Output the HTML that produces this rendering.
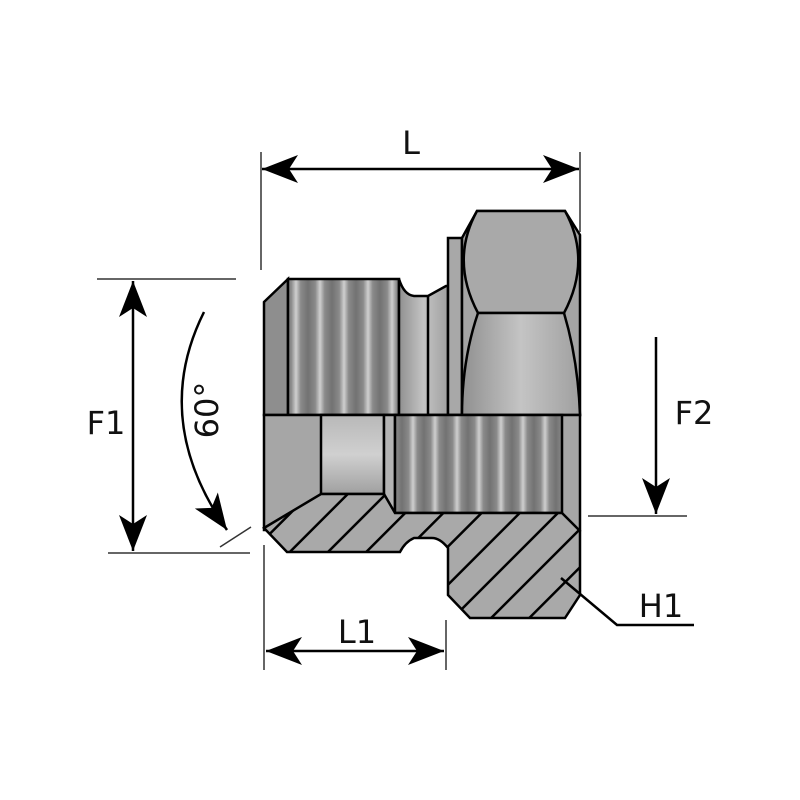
<!DOCTYPE html>
<html><head><meta charset="utf-8"><style>
html,body{margin:0;padding:0;background:#fff;}
svg{display:block;}
text{font-family:"DejaVu Sans","Liberation Sans",sans-serif;fill:#111;}
</style></head><body>
<svg width="800" height="800" viewBox="0 0 800 800" xmlns="http://www.w3.org/2000/svg">
<defs>
<linearGradient id="thr" x1="0" x2="1" y1="0" y2="0">
<stop offset="0" stop-color="#727272"/><stop offset="0.3" stop-color="#8a8a8a"/><stop offset="0.5" stop-color="#cfcfcf"/><stop offset="0.7" stop-color="#8a8a8a"/><stop offset="1" stop-color="#727272"/>
</linearGradient>
<pattern id="thrp" x="-4" width="24" height="10" patternUnits="userSpaceOnUse">
<rect width="24" height="10" fill="url(#thr)"/>
</pattern>
<pattern id="thrp2" x="6" width="22" height="10" patternUnits="userSpaceOnUse">
<rect width="22" height="10" fill="url(#thr)"/>
</pattern>
<linearGradient id="vg" x1="0" x2="0" y1="0" y2="1">
<stop offset="0" stop-color="#b8b8b8"/><stop offset="0.5" stop-color="#d0d0d0"/><stop offset="1" stop-color="#a0a0a0"/>
</linearGradient>
<linearGradient id="hg" x1="0" x2="1" y1="0" y2="0">
<stop offset="0" stop-color="#909090"/><stop offset="0.5" stop-color="#c4c4c4"/><stop offset="1" stop-color="#a0a0a0"/>
</linearGradient>
<pattern id="hatch" width="27" height="27" patternUnits="userSpaceOnUse" patternTransform="rotate(45)">
<rect width="27" height="27" fill="#a9a9a9"/>
<line x1="0" y1="0" x2="0" y2="27" stroke="#000" stroke-width="5"/>
</pattern>
<marker id="ah" viewBox="0 0 36 28" refX="36" refY="14" markerWidth="36" markerHeight="28" markerUnits="userSpaceOnUse" orient="auto-start-reverse">
<path d="M0,0 L36,14 L0,28 L9,14 Z" fill="#000"/>
</marker>
</defs>

<path d="M264,302 L288,279 L288,415 L264,415 Z" fill="#8e8e8e" stroke="#000" stroke-width="2.5"/>
<rect x="288" y="279" width="111" height="136" fill="url(#thrp)" stroke="#000" stroke-width="2.5"/>
<path d="M399,279 Q404,295 414,296 L428,296 L446,286 L448,286 L448,415 L399,415 Z" fill="url(#hg)" stroke="#000" stroke-width="2.5"/>
<line x1="428" y1="296" x2="428" y2="415" stroke="#000" stroke-width="2.5"/>
<rect x="448" y="238" width="14" height="177" fill="#a8a8a8" stroke="#000" stroke-width="2.5"/>
<path d="M477,211 L565,211 L580,235 L580,415 L462,415 L462,238 Z" fill="#a4a4a4" stroke="#000" stroke-width="2.5"/>
<path d="M477,211 Q450,260 478,313 L564,313 Q592,260 565,211 Z" fill="#a9a9a9" stroke="#000" stroke-width="2.5"/>
<path d="M478,313 Q462,360 462,415 L580,415 Q578,360 564,313 Z" fill="url(#hg)" stroke="#000" stroke-width="2.5"/>

<rect x="264" y="415" width="316" height="115" fill="#a6a6a6" stroke="#000" stroke-width="2.5"/>
<rect x="321" y="415" width="63" height="79" fill="url(#vg)" stroke="#000" stroke-width="2.5"/>
<rect x="384" y="415" width="11" height="98" fill="#b4b4b4" stroke="#000" stroke-width="2.5"/>
<rect x="395" y="415" width="167" height="98" fill="url(#thrp2)" stroke="#000" stroke-width="2.5"/>

<path d="M264,528 L321,494 L384,494 L395,513 L562,513 L580,531 L580,595 L565,618 L470,618 L448,595 L448,548 Q440,538 432,538 L414,538 Q405,542 400,552 L287,552 Z" fill="url(#hatch)" stroke="#000" stroke-width="2.5"/>

<line x1="261" y1="152" x2="261" y2="270" stroke="#333" stroke-width="1.5"/>
<line x1="580" y1="152" x2="580" y2="232" stroke="#333" stroke-width="1.5"/>
<line x1="262" y1="169" x2="579" y2="169" stroke="#000" stroke-width="2.5" marker-start="url(#ah)" marker-end="url(#ah)"/>
<text x="411" y="154" font-size="32" text-anchor="middle">L</text>

<line x1="97" y1="279" x2="236" y2="279" stroke="#333" stroke-width="1.5"/>
<line x1="108" y1="553" x2="250" y2="553" stroke="#333" stroke-width="1.5"/>
<line x1="133" y1="281" x2="133" y2="551" stroke="#000" stroke-width="2.5" marker-start="url(#ah)" marker-end="url(#ah)"/>
<text x="106" y="434" font-size="32" text-anchor="middle">F1</text>

<path d="M204,312 Q150,420 227,530" fill="none" stroke="#000" stroke-width="2.5" marker-end="url(#ah)"/>
<line x1="220" y1="547" x2="251" y2="527" stroke="#333" stroke-width="1.5"/>
<text transform="translate(218,410) rotate(-90)" font-size="32" text-anchor="middle">60°</text>

<line x1="656" y1="337" x2="656" y2="514" stroke="#000" stroke-width="2.5" marker-end="url(#ah)"/>
<line x1="588" y1="516" x2="687" y2="516" stroke="#333" stroke-width="1.5"/>
<text x="694" y="424" font-size="32" text-anchor="middle">F2</text>

<line x1="264" y1="545" x2="264" y2="670" stroke="#333" stroke-width="1.5"/>
<line x1="446" y1="620" x2="446" y2="670" stroke="#333" stroke-width="1.5"/>
<line x1="266" y1="651" x2="444" y2="651" stroke="#000" stroke-width="2.5" marker-start="url(#ah)" marker-end="url(#ah)"/>
<text x="357" y="643" font-size="32" text-anchor="middle">L1</text>

<polyline points="561,578 617,625 694,625" fill="none" stroke="#000" stroke-width="2.5"/>
<text x="661" y="617" font-size="32" text-anchor="middle">H1</text>
</svg>
</body></html>
